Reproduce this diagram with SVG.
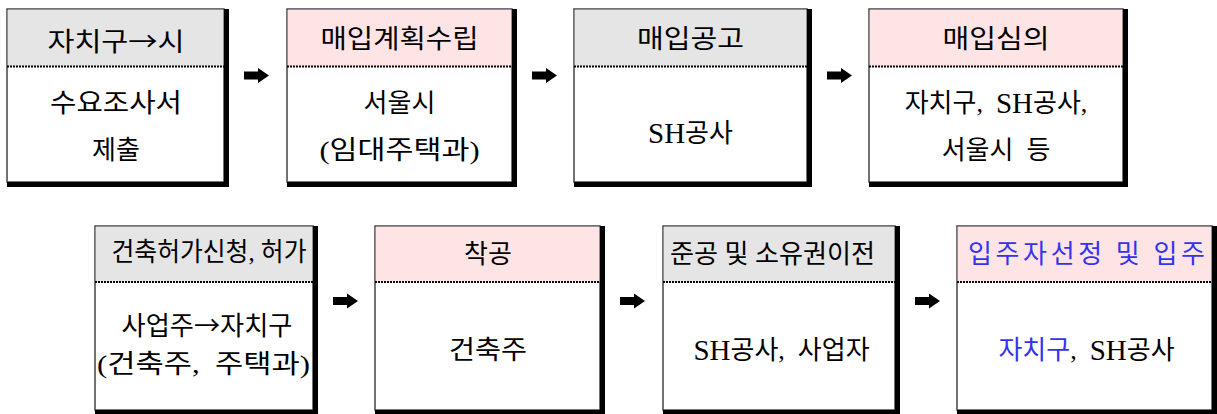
<svg xmlns="http://www.w3.org/2000/svg" width="1217" height="414" viewBox="0 0 1217 414">
<style>
text{font-family:"Liberation Serif","Noto Sans CJK KR",serif;font-size:26px;fill:#000;text-anchor:middle;dominant-baseline:central;white-space:pre}
.cjk{font-family:"Noto Sans CJK KR",sans-serif}
.lat{font-size:29px}
.frame{fill:#fff;stroke:#444;stroke-width:1.5}
.hg{fill:#e5e5e5}
.hp{fill:#ffe4e6}
.shadow{fill:#000}
.div{stroke:#000;stroke-width:2;stroke-dasharray:2 1;fill:none}
.arrow{fill:#000}
.blue{fill:#3333ee}
</style>
<rect width="1217" height="414" fill="#fff"/>

<g id="node1">
<rect class="frame" x="7" y="9" width="217" height="173"/>
<rect class="hg" x="7.75" y="9.75" width="215.5" height="56.5"/>
<line class="div" x1="7" y1="66.5" x2="224" y2="66.5"/>
<path class="shadow" d="M224,9 H229 V187 H7 V182 H224 Z"/>
<text class="cjk" x="116" y="39" textLength="137" lengthAdjust="spacingAndGlyphs">자치구→시</text>
<text x="116" y="103" textLength="132" lengthAdjust="spacingAndGlyphs">수요조사서</text>
<text x="116" y="150">제출</text>
</g>

<g id="node2">
<rect class="frame" x="287" y="9" width="225" height="173"/>
<rect class="hp" x="287.75" y="9.75" width="223.5" height="56.5"/>
<line class="div" x1="287" y1="66.5" x2="512" y2="66.5"/>
<path class="shadow" d="M512,9 H517 V187 H287 V182 H512 Z"/>
<text x="399.5" y="39" textLength="158" lengthAdjust="spacingAndGlyphs">매입계획수립</text>
<text x="399.5" y="103">서울시</text>
<text x="399.5" y="150" textLength="160" lengthAdjust="spacingAndGlyphs">(임대주택과)</text>
</g>

<g id="node3">
<rect class="frame" x="574" y="9" width="233" height="173"/>
<rect class="hg" x="574.75" y="9.75" width="231.5" height="56.5"/>
<line class="div" x1="574" y1="66.5" x2="807" y2="66.5"/>
<path class="shadow" d="M807,9 H812 V187 H574 V182 H807 Z"/>
<text x="690.5" y="39" textLength="107" lengthAdjust="spacingAndGlyphs">매입공고</text>
<text x="690.5" y="133"><tspan class="lat">SH</tspan>공사</text>
</g>

<g id="node4">
<rect class="frame" x="869" y="9" width="254" height="173"/>
<rect class="hp" x="869.75" y="9.75" width="252.5" height="56.5"/>
<line class="div" x1="869" y1="66.5" x2="1123" y2="66.5"/>
<path class="shadow" d="M1123,9 H1128 V187 H869 V182 H1123 Z"/>
<text x="996" y="39" textLength="107" lengthAdjust="spacingAndGlyphs">매입심의</text>
<text x="996" y="103">자치구,  <tspan class="lat">SH</tspan>공사,</text>
<text x="996" y="150">서울시  등</text>
</g>

<g id="node5">
<rect class="frame" x="95" y="226" width="218" height="184"/>
<rect class="hg" x="95.75" y="226.75" width="216.5" height="55"/>
<line class="div" x1="95" y1="282" x2="313" y2="282"/>
<path class="shadow" d="M313,226 H318 V415 H95 V410 H313 Z"/>
<text x="209" y="252" textLength="195" lengthAdjust="spacingAndGlyphs">건축허가신청, 허가</text>
<text class="cjk" x="207" y="323" textLength="171" lengthAdjust="spacingAndGlyphs">사업주→자치구</text>
<text x="203.5" y="364" textLength="213" lengthAdjust="spacingAndGlyphs">(건축주,  주택과)</text>
</g>

<g id="node6">
<rect class="frame" x="375" y="226" width="225" height="184"/>
<rect class="hp" x="375.75" y="226.75" width="223.5" height="55"/>
<line class="div" x1="375" y1="282" x2="600" y2="282"/>
<path class="shadow" d="M600,226 H605 V415 H375 V410 H600 Z"/>
<text x="488" y="254">착공</text>
<text x="488" y="350" textLength="78" lengthAdjust="spacingAndGlyphs">건축주</text>
</g>

<g id="node7">
<rect class="frame" x="663" y="226" width="232" height="184"/>
<rect class="hg" x="663.75" y="226.75" width="230.5" height="55"/>
<line class="div" x1="663" y1="282" x2="895" y2="282"/>
<path class="shadow" d="M895,226 H900 V415 H663 V410 H895 Z"/>
<text x="772.5" y="254" textLength="205" lengthAdjust="spacingAndGlyphs">준공 및 소유권이전</text>
<text x="781.5" y="350"><tspan class="lat">SH</tspan>공사,  사업자</text>
</g>

<g id="node8">
<rect class="frame" x="957" y="226" width="255" height="184"/>
<rect class="hp" x="957.75" y="226.75" width="253.5" height="55"/>
<line class="div" x1="957" y1="282" x2="1212" y2="282"/>
<path class="shadow" d="M1212,226 H1217 V415 H957 V410 H1212 Z"/>
<text class="blue" x="1086.5" y="254" textLength="237" lengthAdjust="spacing">입주자선정 및 입주</text>
<text x="1086.5" y="350"><tspan class="blue">자치구</tspan>,  <tspan class="lat">SH</tspan>공사</text>
</g>

<g id="connectors">
<path class="arrow" d="M244,71.5 H258 V68 L269,75.5 L258,83 V79.5 H244 Z"/>
<path class="arrow" d="M532,71.5 H546 V68 L557,75.5 L546,83 V79.5 H532 Z"/>
<path class="arrow" d="M827,71.5 H841 V68 L852,75.5 L841,83 V79.5 H827 Z"/>
<path class="arrow" d="M333,297 H347 V293.5 L358,301 L347,308.5 V305 H333 Z"/>
<path class="arrow" d="M620,297 H634 V293.5 L645,301 L634,308.5 V305 H620 Z"/>
<path class="arrow" d="M915,297 H929 V293.5 L940,301 L929,308.5 V305 H915 Z"/>
</g>
</svg>
